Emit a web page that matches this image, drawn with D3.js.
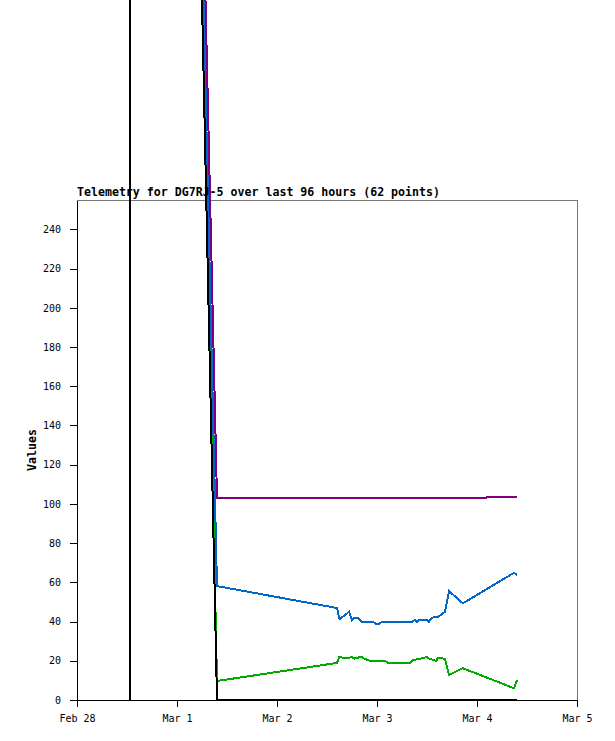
<!DOCTYPE html>
<html>
<head>
<meta charset="utf-8">
<script src="https://cdn.jsdelivr.net/npm/d3@7"></script>
<style>
  body { margin: 0; background: #fff; }
  svg { display: block; }
  .axis text { font-family: "DejaVu Sans Mono", monospace; font-size: 10px; fill: #000; }
  .axis path, .axis line { stroke: #000; shape-rendering: crispEdges; }
</style>
</head>
<body>
<svg id="chart" width="615" height="741"></svg>
<script>
// hours since Feb 28 00:00
const purpleHours = [12.7, 33.6, 98.3, 98.4, 105.6];
const purpleValues = [2024, 103, 103, 103.5, 103.5];

const blueHours = [12.7, 33.6, 62.4, 63.0, 65.3, 66.0, 66.5, 67.4, 68.4, 71.0, 71.8, 72.5, 73.2, 80.4, 81.1, 81.6, 82.1, 84.0, 84.5, 85.2, 86.6, 88.3, 89.3, 92.6, 104.9, 105.6];
const blueValues = [1984, 58.1, 46.9, 41.2, 45.0, 40.8, 42.0, 41.7, 39.9, 39.9, 38.8, 38.8, 39.9, 39.9, 40.8, 39.9, 40.8, 40.8, 39.9, 42.0, 42.3, 45.0, 55.6, 49.3, 64.9, 63.8];

const greenHours = [12.7, 33.6, 62.4, 63.0, 63.8, 65.0, 66.0, 66.5, 68.4, 68.9, 70.3, 73.9, 74.6, 79.9, 80.6, 82.1, 84.0, 84.5, 86.2, 86.6, 88.3, 89.3, 92.6, 104.9, 105.6];
const greenValues = [2100, 9.7, 18.9, 22.1, 21.6, 21.3, 22.1, 21.1, 22.1, 21.1, 20.0, 20.0, 19.0, 19.0, 20.4, 20.9, 21.9, 21.1, 20.0, 21.3, 21.1, 12.8, 16.2, 6.0, 10.2];

const blackHours = [12.7, 12.7, 33.6, 105.6];
const blackValues = [0, 2071, 0, 0];

const yTicks = [0, 20, 40, 60, 80, 100, 120, 140, 160, 180, 200, 220, 240];
const title = "Telemetry for DG7RJ-5 over last 96 hours (62 points)";

const start = new Date(2023, 1, 28);
const toDate = h => new Date(start.getTime() + h * 3600 * 1000);

const series = [
  { color: "#800080", hours: purpleHours, values: purpleValues },
  { color: "#00aa00", hours: greenHours, values: greenValues },
  { color: "#0066cc", hours: blueHours, values: blueValues },
  { color: "#000000", hours: blackHours, values: blackValues },
];

const margin = { top: 200, right: 38, bottom: 41, left: 77 };
const width = 615 - margin.left - margin.right;
const height = 741 - margin.top - margin.bottom;

const svg = d3.select("#chart");

const x = d3.scaleTime()
  .domain([start, new Date(2023, 2, 5)])
  .range([margin.left, margin.left + width]);

const y = d3.scaleLinear()
  .domain([0, 255])
  .range([margin.top + height, margin.top]);

// frame (top/right)
svg.append("rect")
  .attr("x", margin.left + 0.5)
  .attr("y", margin.top + 0.5)
  .attr("width", width)
  .attr("height", height)
  .attr("fill", "none")
  .attr("stroke", "#777")
  .attr("shape-rendering", "crispEdges");

svg.append("g")
  .attr("class", "axis")
  .attr("transform", `translate(${margin.left},0)`)
  .call(d3.axisLeft(y).tickValues(yTicks).tickSize(7).tickSizeOuter(0).tickPadding(9));

svg.append("g")
  .attr("class", "axis")
  .attr("transform", `translate(0,${margin.top + height})`)
  .call(d3.axisBottom(x)
    .ticks(d3.timeDay.every(1))
    .tickFormat(d3.timeFormat("%b %-d"))
    .tickSize(7)
    .tickSizeOuter(0)
    .tickPadding(8));

const line = d3.line()
  .x(d => x(d.t))
  .y(d => y(d.v));

svg.selectAll(".line")
  .data(series)
  .join("path")
  .attr("class", "line")
  .attr("d", s => line(s.hours.map((h, i) => ({ t: toDate(h), v: s.values[i] }))))
  .attr("fill", "none")
  .attr("stroke", s => s.color)
  .attr("stroke-width", 2)
  .attr("shape-rendering", "crispEdges");

svg.append("text")
  .attr("x", margin.left)
  .attr("y", margin.top - 4)
  .attr("font-family", "DejaVu Sans Mono, monospace")
  .attr("font-weight", "bold")
  .attr("font-size", 11.6)
  .text(title);

svg.append("text")
  .attr("transform", `translate(36,${margin.top + height / 2}) rotate(-90)`)
  .attr("text-anchor", "middle")
  .attr("font-family", "DejaVu Sans Mono, monospace")
  .attr("font-weight", "bold")
  .attr("font-size", 11.6)
  .text("Values");
</script>
</body>
</html>
